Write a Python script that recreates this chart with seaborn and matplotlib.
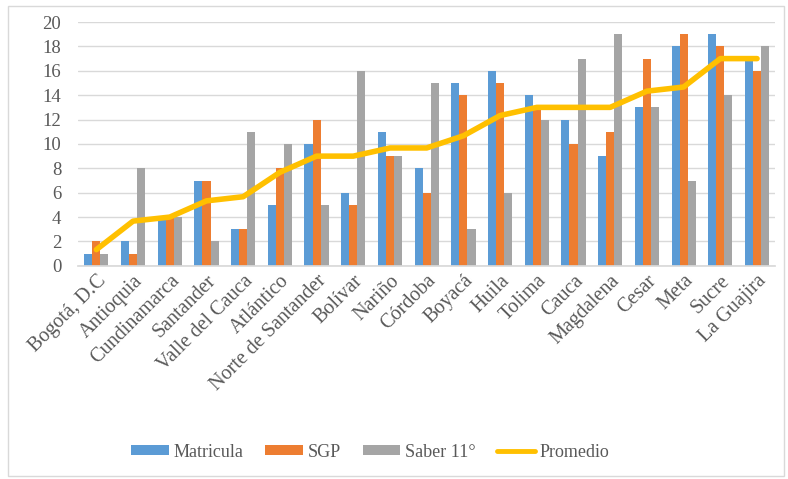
import numpy as np
import pandas as pd
import matplotlib
matplotlib.use("Agg")
import matplotlib.pyplot as plt
import seaborn as sns
from matplotlib.patches import Patch, Rectangle
from matplotlib.lines import Line2D

departamentos = ["Bogotá, D.C", "Antioquia", "Cundinamarca", "Santander", "Valle del Cauca",
                 "Atlántico", "Norte de Santander", "Bolívar", "Nariño", "Córdoba", "Boyacá",
                 "Huila", "Tolima", "Cauca", "Magdalena", "Cesar", "Meta", "Sucre", "La Guajira"]
matricula = [1, 2, 4, 7, 3, 5, 10, 6, 11, 8, 15, 16, 14, 12, 9, 13, 18, 19, 17]
sgp = [2, 1, 4, 7, 3, 8, 12, 5, 9, 6, 14, 15, 13, 10, 11, 17, 19, 18, 16]
saber11 = [1, 8, 4, 2, 11, 10, 5, 16, 9, 15, 3, 6, 12, 17, 19, 13, 7, 14, 18]
promedio = [1.33, 3.67, 4.0, 5.33, 5.67, 7.67, 9.0, 9.0, 9.67, 9.67, 10.67,
            12.33, 13.0, 13.0, 13.0, 14.33, 14.67, 17.0, 17.0]
series_names = ["Matricula", "SGP", "Saber 11°"]
y_ticks = list(range(0, 21, 2))

colors = ["#5B9BD5", "#ED7D31", "#A5A5A5"]
line_color = "#FFC000"
text_color = "#595959"

sns.set_theme(style="white")
plt.rcParams["font.family"] = ["Liberation Serif", "DejaVu Serif"]
plt.rcParams["font.serif"] = ["Liberation Serif", "DejaVu Serif"]

df = pd.DataFrame({
    "Departamento": departamentos * 3,
    "Valor": matricula + sgp + saber11,
    "Serie": [series_names[0]] * len(departamentos) + [series_names[1]] * len(departamentos)
             + [series_names[2]] * len(departamentos),
})

fig = plt.figure(figsize=(7.88, 4.79), dpi=100)
ax = fig.add_axes([0.099, 0.445, 0.885, 0.509])

sns.barplot(data=df, x="Departamento", y="Valor", hue="Serie", order=departamentos,
            hue_order=series_names, palette=colors, width=0.66, saturation=1,
            ax=ax, legend=False, linewidth=0)
sns.lineplot(x=np.arange(len(departamentos)), y=promedio, color=line_color, linewidth=4,
             ax=ax, legend=False, solid_capstyle="round")

ax.set_ylim(0, 20)
ax.set_xlim(-0.5, len(departamentos) - 0.5)
ax.set_yticks(y_ticks)
ax.set_yticklabels([str(t) for t in y_ticks], fontsize=13.5, color=text_color)
ax.set_xticks(range(len(departamentos)))
ax.set_xticklabels(departamentos, rotation=45, ha="right", rotation_mode="anchor",
                   fontsize=14.5, color=text_color)
ax.tick_params(axis="x", length=0, pad=4)
ax.tick_params(axis="y", length=0, pad=12)
ax.set_xlabel("")
ax.set_ylabel("")
ax.yaxis.grid(True, color="#D9D9D9", linewidth=1)
ax.set_axisbelow(True)
for s in ["top", "right", "left"]:
    ax.spines[s].set_visible(False)
ax.spines["bottom"].set_color("#D9D9D9")

handles = [Patch(facecolor=c, edgecolor="none") for c in colors]
handles.append(Line2D([0], [0], color=line_color, linewidth=3.5))
leg = fig.legend(handles, series_names + ["Promedio"], loc="center", bbox_to_anchor=(0.47, 0.056),
                 ncol=4, frameon=False, fontsize=13,
                 handlelength=2.1, handleheight=0.45, columnspacing=1.2, handletextpad=0.25)
for t in leg.get_texts():
    t.set_fontfamily("Liberation Serif")
    t.set_color(text_color)

fig.patches.append(Rectangle((0.010, 0.006), 0.985, 0.982, transform=fig.transFigure,
                             fill=False, edgecolor="#D9D9D9", linewidth=1))

fig.savefig("out.png", dpi=100)
